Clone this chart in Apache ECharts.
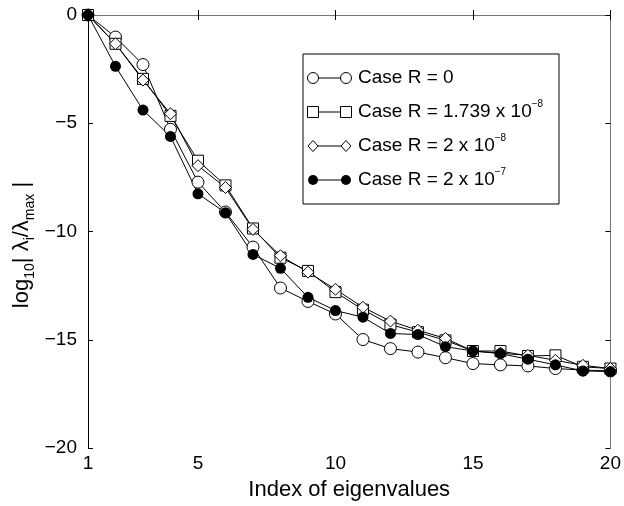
<!DOCTYPE html>
<html>
<head>
<meta charset="utf-8">
<script src="https://cdn.jsdelivr.net/npm/echarts@6/dist/echarts.min.js"></script>
<style>
  html, body {margin: 0; padding: 0; background: #fff;}
  #chart {width: 624px; height: 506px;}
</style>
</head>
<body>
<div id="chart"></div>
<script>
const index = [1, 2, 3, 4, 5, 6, 7, 8, 9, 10, 11, 12, 13, 14, 15, 16, 17, 18, 19, 20];
const caseR0 = [0, -1.02, -2.29, -5.28, -7.72, -9.1, -10.72, -12.61, -13.23, -13.81, -14.99, -15.41, -15.57, -15.83, -16.1, -16.16, -16.21, -16.33, -16.4, -16.44];
const caseR1739e8 = [0, -1.33, -2.95, -4.66, -6.73, -7.87, -9.86, -11.21, -11.82, -12.8, -13.61, -14.3, -14.65, -15.03, -15.52, -15.52, -15.75, -15.72, -16.25, -16.33];
const caseR2e8 = [0, -1.33, -3.01, -4.56, -6.96, -7.97, -9.9, -11.12, -11.88, -12.67, -13.5, -14.14, -14.56, -14.94, -15.52, -15.62, -15.72, -15.95, -16.18, -16.33];
const caseR2e7 = [0, -2.37, -4.39, -5.61, -8.26, -9.13, -11.06, -11.7, -13.04, -13.65, -13.96, -14.71, -14.76, -15.32, -15.52, -15.64, -15.9, -16.16, -16.44, -16.47];
const xTicks = [1, 5, 10, 15, 20];

const font = 'Liberation Sans, Arial, Helvetica, sans-serif';
const chart = echarts.init(document.getElementById('chart'));

const pair = (ys) => index.map((x, i) => [x, ys[i]]);
const hollow = {color: '#fff', borderColor: '#000', borderWidth: 1};

const mkSeries = (name, ys, symbol, size, itemStyle) => ({
  name: name,
  type: 'line',
  data: pair(ys),
  symbol: symbol,
  symbolSize: size,
  showAllSymbol: true,
  lineStyle: {color: '#000', width: 1},
  itemStyle: itemStyle,
  emphasis: {disabled: true},
  animation: false
});

// legend drawn by hand: box, sample line with end symbols, rich text
const legendRows = [
  {y: 78, shape: 'circle', label: 'Case R = 0'},
  {y: 112, shape: 'rect', label: 'Case R = 1.739 x 10{s|−8}'},
  {y: 146, shape: 'diamond', label: 'Case R = 2 x 10{s|−8}'},
  {y: 180, shape: 'dot', label: 'Case R = 2 x 10{s|−7}'}
];
const mark = (shape, cx, cy) => {
  const st = {fill: '#fff', stroke: '#000', lineWidth: 1};
  if (shape === 'circle') return {type: 'circle', shape: {cx, cy, r: 5.5}, style: st, z: 101};
  if (shape === 'rect') return {type: 'rect', shape: {x: cx - 5.5, y: cy - 5.5, width: 11, height: 11}, style: st, z: 101};
  if (shape === 'diamond') return {type: 'polygon', shape: {points: [[cx, cy - 5.5], [cx + 5, cy], [cx, cy + 5.5], [cx - 5, cy]]}, style: st, z: 101};
  return {type: 'circle', shape: {cx, cy, r: 5}, style: {fill: '#000'}, z: 101};
};
const legendGraphic = [{
  type: 'rect',
  shape: {x: 303, y: 54, width: 256, height: 150},
  style: {fill: '#fff', stroke: '#000', lineWidth: 1},
  z: 100
}];
legendRows.forEach(r => {
  legendGraphic.push({type: 'line', shape: {x1: 313, y1: r.y, x2: 346, y2: r.y}, style: {stroke: '#000', lineWidth: 1}, z: 101});
  legendGraphic.push(mark(r.shape, 313, r.y));
  legendGraphic.push(mark(r.shape, 346, r.y));
  legendGraphic.push({
    type: 'text', x: 358, y: r.y, z: 101,
    style: {
      text: r.label, fill: '#000', fontSize: 19, fontFamily: font,
      verticalAlign: 'middle', lineHeight: 26,
      rich: {s: {fontSize: 10, fontFamily: font, verticalAlign: 'top', lineHeight: 12, fill: '#000'}}
    }
  });
});

// y axis title with subscripts
legendGraphic.push({
  type: 'text', x: 22, y: 245, rotation: Math.PI / 2, z: 50,
  style: {
    text: 'log{b|10}| λ{b|i}/λ{b|max} |',
    fill: '#000', fontSize: 22, fontFamily: font,
    align: 'center', verticalAlign: 'middle', lineHeight: 30,
    rich: {b: {fontSize: 14, fontFamily: font, verticalAlign: 'bottom', lineHeight: 16, fill: '#000'}}
  }
});

const baseAxisLine = {lineStyle: {color: '#000', width: 1}};
const tickIn = {inside: true, length: 5, lineStyle: {color: '#000', width: 1}};
const minus = v => String(v).replace('-', '−');

chart.setOption({
  backgroundColor: '#fff',
  animation: false,
  grid: {left: 88, right: 11, top: 15, bottom: 55, containLabel: false},
  xAxis: [{
    type: 'value', min: 1, max: 20, position: 'bottom',
    name: 'Index of eigenvalues', nameLocation: 'middle', nameGap: 31,
    nameTextStyle: {fontSize: 22, fontFamily: font, color: '#000'},
    axisLine: baseAxisLine,
    axisTick: Object.assign({customValues: xTicks}, tickIn),
    axisLabel: {customValues: xTicks, fontSize: 19, fontFamily: font, color: '#000', margin: 6},
    splitLine: {show: false}
  }, {
    type: 'value', min: 1, max: 20, position: 'top',
    axisLine: {lineStyle: {color: '#777', width: 1}},
    axisTick: Object.assign({customValues: xTicks}, tickIn),
    axisLabel: {show: false},
    splitLine: {show: false}
  }],
  yAxis: [{
    type: 'value', min: -20, max: 0, interval: 5, position: 'left',
    axisLine: baseAxisLine,
    axisTick: tickIn,
    axisLabel: {fontSize: 19, fontFamily: font, color: '#000', margin: 11, formatter: minus},
    splitLine: {show: false}
  }, {
    type: 'value', min: -20, max: 0, interval: 5, position: 'right',
    axisLine: {lineStyle: {color: '#777', width: 1}},
    axisTick: tickIn,
    axisLabel: {show: false},
    splitLine: {show: false}
  }],
  graphic: legendGraphic,
  series: [
    mkSeries('Case R = 0', caseR0, 'circle', 12, hollow),
    mkSeries('Case R = 1.739 x 10^-8', caseR1739e8, 'rect', 11, hollow),
    mkSeries('Case R = 2 x 10^-8', caseR2e8, 'diamond', 12, hollow),
    mkSeries('Case R = 2 x 10^-7', caseR2e7, 'circle', 11, {color: '#000'})
  ]
});
</script>
</body>
</html>
